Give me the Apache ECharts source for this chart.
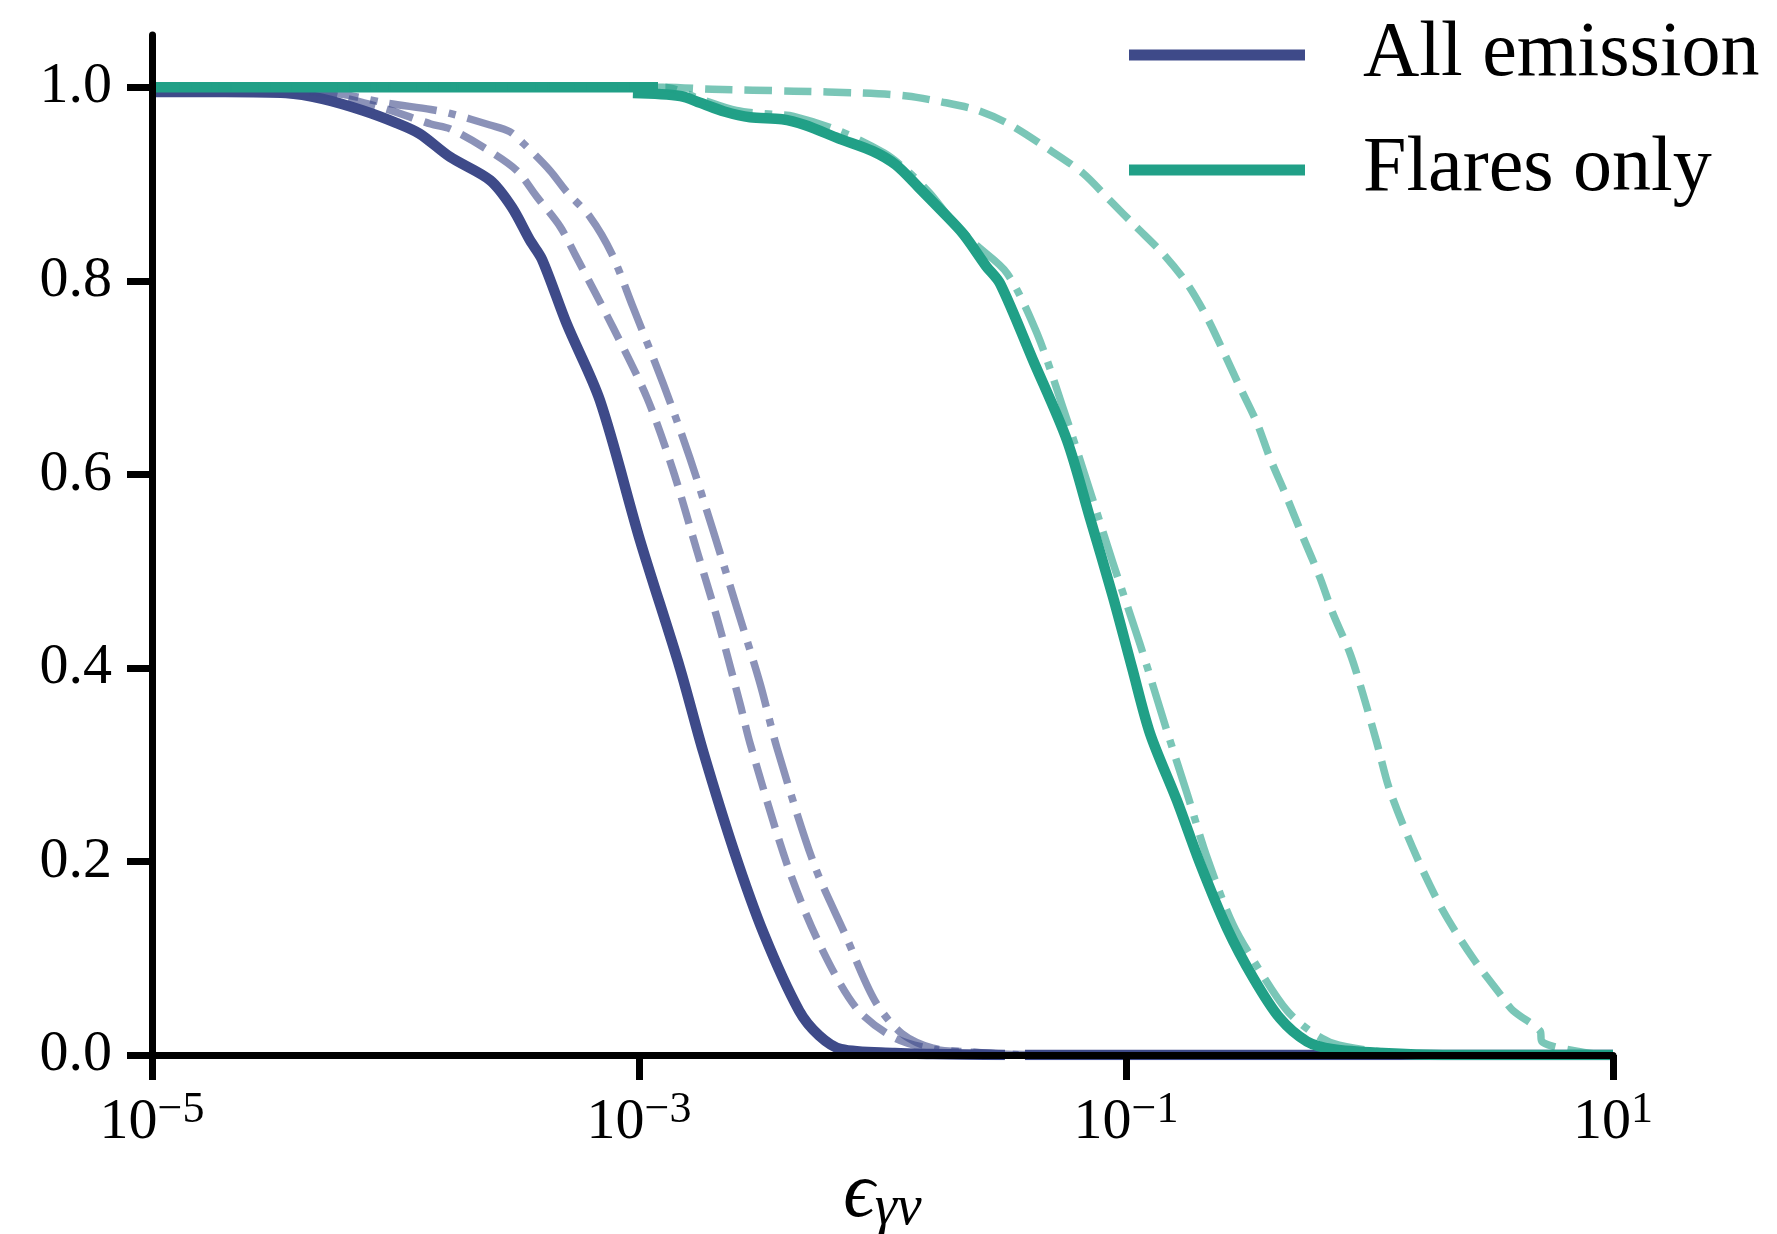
<!DOCTYPE html>
<html>
<head>
<meta charset="utf-8">
<script src="https://cdn.jsdelivr.net/npm/echarts@6/dist/echarts.min.js"></script>
<style>
html,body{margin:0;padding:0;background:#fff;}
#chart{width:1777px;height:1234px;}
</style>
</head>
<body>
<div id="chart"></div>
<script>
// ---- Data (x given as log10(epsilon), y as fraction; null = line break) ----
// All emission
const allSolidLogEps = [-5.0, -4.7, -4.45, -4.3, -4.134, -3.995, -3.901, -3.776, -3.612, -3.522, -3.448, -3.398, -3.296, -3.16, -2.996, -2.832, -2.737, -2.61, -2.487, -2.343, -2.26, -2.17, -1.95, -1.793, -1.497, -1.47, -1.415, 1.0];
const allSolidFrac   = [0.995, 0.995, 0.994, 0.988, 0.976, 0.963, 0.952, 0.928, 0.904, 0.876, 0.842, 0.822, 0.755, 0.676, 0.532, 0.400, 0.314, 0.211, 0.125, 0.046, 0.020, 0.006, 0.002, 0.001, 0, null, 0, 0];

const allDashedLogEps = [-5.0, -4.5, -4.3, -4.227, -4.043, -3.855, -3.776, -3.639, -3.502, -3.42, -3.324, -3.256, -3.107, -2.967, -2.86, -2.762, -2.68, -2.585, -2.544, -2.392, -2.265, -2.109, -1.953, -1.793, -1.637, -1.5, -1.3];
const allDashedFrac   = [1.0, 0.999, 0.994, 0.990, 0.978, 0.962, 0.957, 0.938, 0.914, 0.887, 0.856, 0.824, 0.752, 0.679, 0.604, 0.521, 0.452, 0.363, 0.322, 0.197, 0.118, 0.049, 0.018, 0.006, 0.003, 0.001, 0];

const allDashDotLogEps = [-5.0, -4.5, -4.227, -4.043, -3.855, -3.776, -3.612, -3.53, -3.475, -3.366, -3.297, -3.201, -3.112, -3.025, -2.901, -2.791, -2.696, -2.598, -2.503, -2.433, -2.281, -2.154, -2.031, -1.92, -1.793, -1.58, -1.4];
const allDashDotFrac   = [1.0, 0.999, 0.993, 0.984, 0.977, 0.973, 0.961, 0.954, 0.942, 0.914, 0.892, 0.866, 0.828, 0.773, 0.694, 0.617, 0.542, 0.462, 0.384, 0.317, 0.197, 0.125, 0.056, 0.022, 0.007, 0.002, 0];

// Flares only
const flaresSolidLogEps = [-5.0, -2.922, -2.95, -3.025, -2.831, -2.749, -2.65, -2.544, -2.412, -2.319, -2.179, -2.04, -1.946, -1.853, -1.76, -1.667, -1.574, -1.517, -1.382, -1.242, -1.148, -1.053, -0.975, -0.901, -0.791, -0.696, -0.585, -0.478, -0.368, -0.257, -0.15, 0.055, 0.3, 1.0];
const flaresSolidFrac   = [1.0, 1.0, null, 0.994, 0.991, 0.984, 0.975, 0.969, 0.967, 0.961, 0.947, 0.934, 0.920, 0.897, 0.873, 0.848, 0.815, 0.797, 0.718, 0.635, 0.555, 0.473, 0.400, 0.332, 0.263, 0.198, 0.131, 0.080, 0.038, 0.014, 0.006, 0.002, 0, 0];

const flaresDashedLogEps = [-5.0, -2.9, -2.7, -2.365, -2.086, -1.9, -1.76, -1.62, -1.481, -1.312, -1.176, -1.066, -0.955, -0.848, -0.749, -0.667, -0.602, -0.532, -0.462, -0.409, -0.339, -0.273, -0.203, -0.15, -0.08, -0.027, 0.031, 0.084, 0.195, 0.302, 0.425, 0.536, 0.589, 0.7, 0.708, 0.754, 0.852, 0.95];
const flaresDashedFrac   = [1.0, 1.0, 0.998, 0.996, 0.994, 0.991, 0.985, 0.977, 0.962, 0.935, 0.911, 0.883, 0.855, 0.828, 0.797, 0.762, 0.728, 0.690, 0.653, 0.617, 0.576, 0.535, 0.493, 0.456, 0.415, 0.373, 0.322, 0.273, 0.204, 0.149, 0.100, 0.063, 0.046, 0.025, 0.014, 0.009, 0.004, 0];

const flaresDashDotLogEps = [-5.0, -2.9, -2.75, -2.6, -2.45, -2.365, -2.179, -1.993, -1.9, -1.807, -1.714, -1.62, -1.489, -1.366, -1.259, -1.148, -1.053, -0.943, -0.832, -0.749, -0.667, -0.561, -0.45, -0.339, -0.244, -0.15, -0.01, 0.2, 0.4];
const flaresDashDotFrac   = [1.0, 1.0, 0.988, 0.976, 0.972, 0.970, 0.955, 0.932, 0.914, 0.891, 0.862, 0.838, 0.808, 0.746, 0.669, 0.583, 0.508, 0.425, 0.335, 0.270, 0.204, 0.135, 0.087, 0.046, 0.025, 0.012, 0.005, 0.001, 0];

const xTickValues = [1e-5, 1e-3, 1e-1, 1e1];
const yTickValues = [0, 0.2, 0.4, 0.6, 0.8, 1.0];
const legendNames = ['All emission', 'Flares only'];

// ---- Styling ----
const BLUE = '#3e4a89';
const GREEN = '#21a087';
const FONT = "'Liberation Serif', 'DejaVu Serif', serif";

function toPairs(logs, vals) {
  return logs.map((l, i) => [Math.pow(10, l), vals[i] === null ? '-' : vals[i]]);
}

function mkSeries(name, logs, vals, color, kind) {
  const light = kind !== 'solid';
  let type = 'solid';
  if (kind === 'dashed') type = [27.5, 12];
  if (kind === 'dashdot') type = [48, 12, 7.5, 12];
  return {
    name: name,
    type: 'line',
    data: toPairs(logs, vals),
    showSymbol: false,
    symbol: 'none',
    smooth: 0.3,
    connectNulls: false,
    silent: true,
    itemStyle: { color: color },
    lineStyle: {
      color: color,
      width: light ? 7.5 : 10.5,
      type: type,
      opacity: light ? 0.6 : 1,
      join: 'round',
      cap: 'butt'
    },
    emphasis: { disabled: true },
    z: 2
  };
}

const chart = echarts.init(document.getElementById('chart'), null, { renderer: 'canvas' });

const option = {
  animation: false,
  backgroundColor: '#ffffff',
  grid: { left: 152, right: 164, top: 35, bottom: 179, containLabel: false, outerBoundsMode: 'none' },
  legend: {
    data: legendNames,
    orient: 'vertical',
    left: 1124,
    top: 5,
    icon: 'rect',
    itemWidth: 176,
    itemHeight: 11,
    itemGap: 25,
    selectedMode: false,
    textStyle: {
      fontFamily: FONT,
      fontSize: 78,
      color: '#000',
      lineHeight: 80,
      padding: [10, 0, 0, 53]
    }
  },
  xAxis: {
    type: 'log',
    logBase: 10,
    min: 1e-5,
    max: 10,
    z: 10,
    axisLine: { show: true, onZero: false, lineStyle: { color: '#000', width: 7 } },
    axisTick: { show: true, length: 25, lineStyle: { color: '#000', width: 7 }, customValues: xTickValues },
    minorTick: { show: false },
    splitLine: { show: false },
    axisLabel: {
      customValues: xTickValues,
      margin: 33,
      formatter: function (v) {
        const e = Math.round(Math.log10(v));
        const s = e < 0 ? '\u2212' + (-e) : String(e);
        return '{b|10}{s|' + s + '}';
      },
      rich: {
        b: { fontFamily: FONT, fontSize: 58, color: '#000', lineHeight: 64, verticalAlign: 'bottom' },
        s: { fontFamily: FONT, fontSize: 44, color: '#000', lineHeight: 34, verticalAlign: 'top' }
      }
    },
    name: '{e|\u03f5}{s|\u03b3\u03bd}',
    nameLocation: 'middle',
    nameGap: 96,
    nameTextStyle: {
      rich: {
        e: { fontFamily: FONT, fontStyle: 'italic', fontSize: 78, color: '#000', lineHeight: 80, verticalAlign: 'top' },
        s: { fontFamily: FONT, fontStyle: 'italic', fontSize: 56, color: '#000', lineHeight: 42, verticalAlign: 'bottom' }
      }
    }
  },
  yAxis: {
    type: 'value',
    min: 0,
    max: 1.054,
    z: 10,
    axisLine: { show: true, onZero: false, lineStyle: { color: '#000', width: 7 } },
    axisTick: { show: true, length: 25, lineStyle: { color: '#000', width: 7 }, customValues: yTickValues },
    splitLine: { show: false },
    axisLabel: {
      customValues: yTickValues,
      margin: 40,
      fontFamily: FONT,
      fontSize: 58,
      color: '#000',
      formatter: function (v) { return Number(v).toFixed(1); }
    }
  },
  series: [
    mkSeries('All emission', allSolidLogEps, allSolidFrac, BLUE, 'solid'),
    mkSeries('All emission (dashed)', allDashedLogEps, allDashedFrac, BLUE, 'dashed'),
    mkSeries('All emission (dash-dot)', allDashDotLogEps, allDashDotFrac, BLUE, 'dashdot'),
    mkSeries('Flares only', flaresSolidLogEps, flaresSolidFrac, GREEN, 'solid'),
    mkSeries('Flares only (dashed)', flaresDashedLogEps, flaresDashedFrac, GREEN, 'dashed'),
    mkSeries('Flares only (dash-dot)', flaresDashDotLogEps, flaresDashDotFrac, GREEN, 'dashdot')
  ]
};

chart.setOption(option);
</script>
</body>
</html>
